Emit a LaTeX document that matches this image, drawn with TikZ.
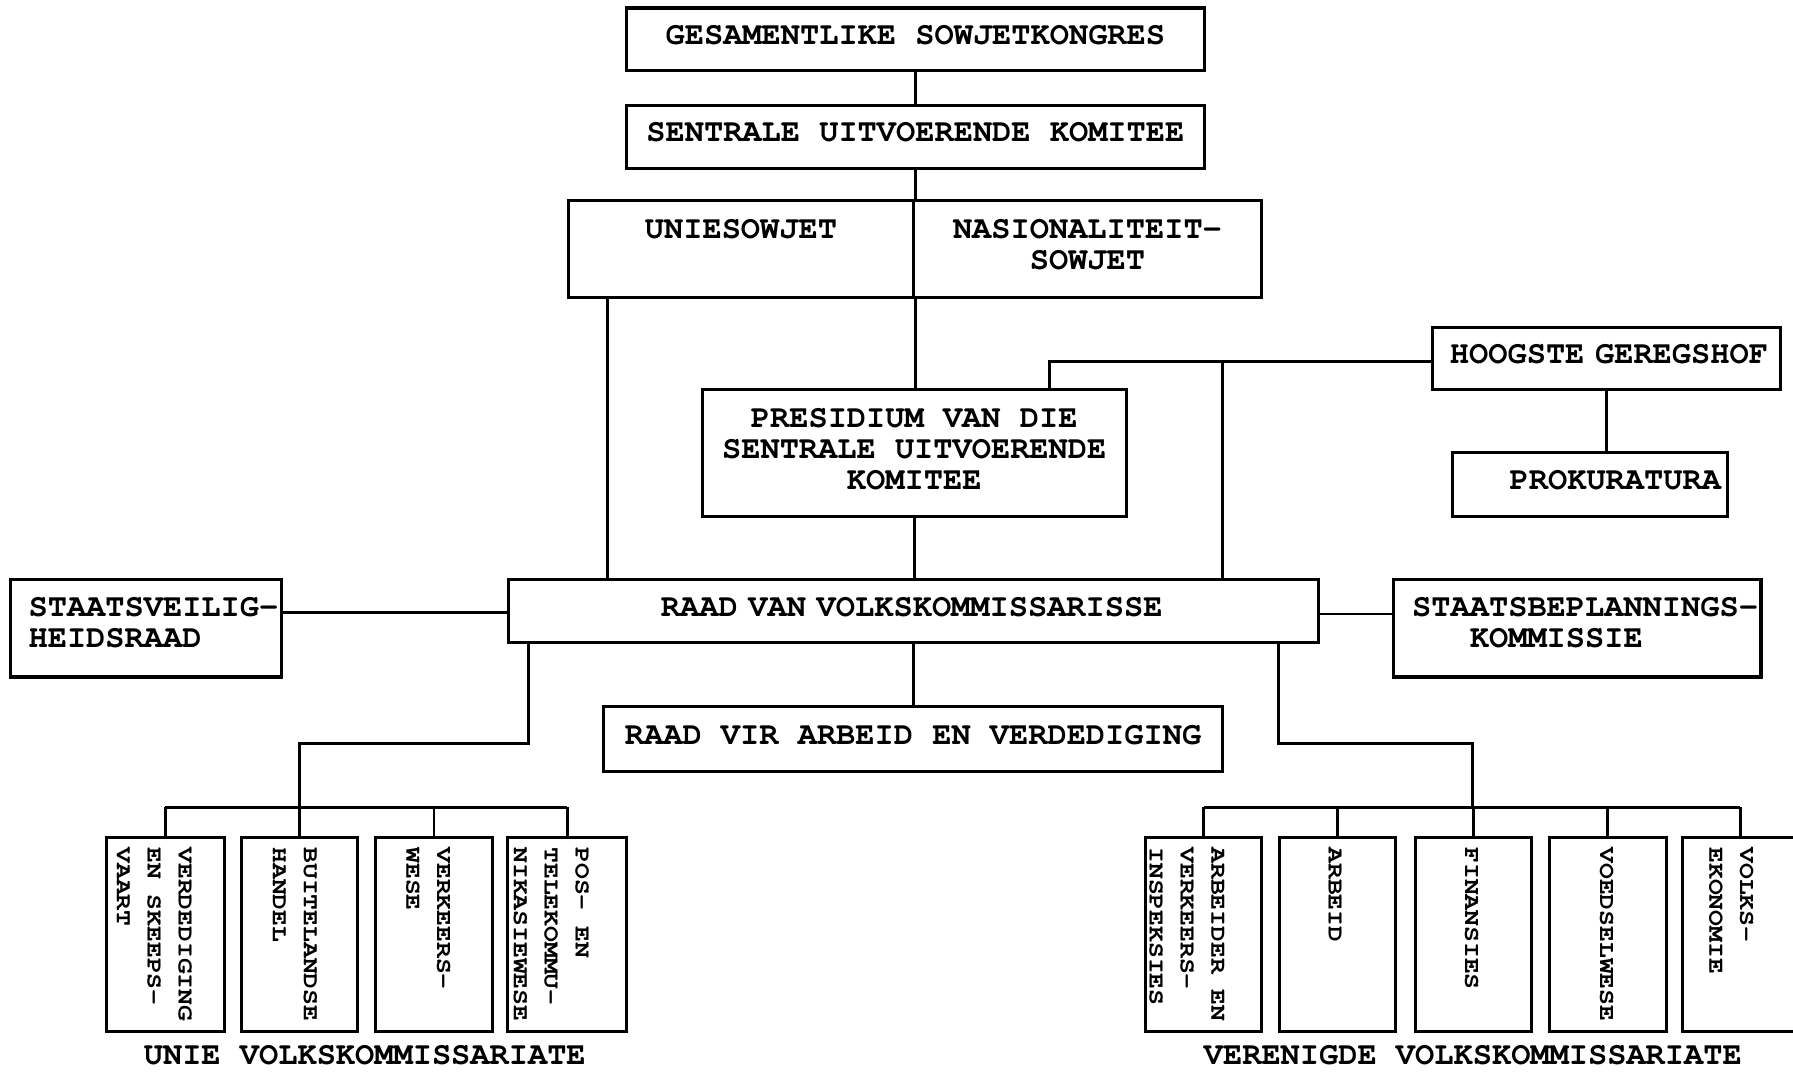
\documentclass[tikz,border=0pt]{standalone}
\usepackage{fontspec}
\newfontfamily\cur{texgyrecursor-bold.otf}
\newfontfamily\curv{texgyrecursor-bold.otf}[FakeStretch=1.18]
\begin{document}
\begin{tikzpicture}[x=1pt,y=-1pt,
  box/.style={draw, line width=2.7pt, inner sep=0pt, text depth=8pt, align=center,
    font=\cur\fontsize{28}{27}\selectfont},
  vbox/.style={draw, line width=2.7pt, minimum width=103pt, minimum height=170pt, inner sep=0pt},
  vtext/.style={rotate=-90, anchor=west, inner sep=0pt, align=left,
    font=\curv\fontsize{19.5}{27}\selectfont},
  link/.style={line width=2.5pt},
  lbl/.style={inner sep=0pt, font=\cur\fontsize{28}{27}\selectfont}]
\useasboundingbox (0,0) rectangle (1568,937);
\clip (0,0) rectangle (1568,937);

% top chain
\node[box, minimum width=505pt, minimum height=55pt] (ges) at (800.5,34.5) {GESAMENTLIKE SOWJETKONGRES};
\node[box, minimum width=505pt, minimum height=55pt] (sen) at (800.5,119.5) {SENTRALE UITVOERENDE KOMITEE};
\node[box, minimum width=302pt, minimum height=85pt] (uni) at (648,217.5) {UNIESOWJET\\\phantom{S}};
\node[box, minimum width=304pt, minimum height=85pt] (nas) at (951,217.5) {NASIONALITEIT-\\SOWJET};
\node[box, minimum width=371pt, minimum height=111pt] (pres) at (799.5,396.5) {PRESIDIUM VAN DIE\\SENTRALE UITVOERENDE\\KOMITEE};
\node[box, minimum width=304pt, minimum height=55pt, align=left, text width=274pt, inner xsep=15pt] (hof) at (1405,313.5) {\mbox{HOOGSTE GEREGSHOF}};
\node[box, minimum width=241pt, minimum height=56pt, align=right, text width=229pt, inner xsep=6pt] (prok) at (1390.5,424) {\mbox{PROKURATURA}};
\node[box, minimum width=708pt, minimum height=55pt, align=left, text width=442pt, inner xsep=133pt] (raad) at (799,534.5) {\mbox{RAAD VAN VOLKSKOMMISSARISSE}};
\node[box, minimum width=235pt, minimum height=85pt, align=left, text width=205pt, inner xsep=16pt, text depth=37pt] (sv) at (127.5,549.5) {\mbox{STAATSVEILIG-}\\\mbox{HEIDSRAAD}};
\node[box, minimum width=321pt, minimum height=85pt, align=left, text width=289pt, inner xsep=16pt, text depth=37pt] (sb) at (1379.5,549.5) {\mbox{STAATSBEPLANNINGS-}\\\mbox{\hspace*{1.8em}KOMMISSIE}};
\node[box, minimum width=541pt, minimum height=57pt] (rva) at (798.5,646.5) {RAAD VIR ARBEID EN VERDEDIGING};

% vertical boxes
\node[vbox] (L1) at (144.5,817) {};
\node[vbox, minimum width=102pt] (L2) at (262,817) {};
\node[vbox] (L3) at (379.5,817) {};
\node[vbox, minimum width=104pt] (L4) at (496,817) {};
\node[vbox, minimum width=101pt] (R1) at (1052.5,817) {};
\node[vbox, minimum width=101pt] (R2) at (1169.5,817) {};
\node[vbox, minimum width=101pt] (R3) at (1288.5,817) {};
\node[vbox, minimum width=102pt] (R4) at (1406,817) {};
\node[vbox, minimum width=102pt] (R5) at (1522,817) {};

\node[vtext] (tL1) at (135,741) {VERDEDIGING\\EN SKEEPS-\\VAART};
\node[vtext] (tL2) at (258,741) {BUITELANDSE\\HANDEL};
\node[vtext] (tL3) at (374.5,741) {VERKEERS-\\WESE};
\node[vtext] (tL4) at (482,741) {POS- EN\\TELEKOMMU-\\NIKASIEWESE};
\node[vtext] (tR1) at (1038,741) {ARBEIDER EN\\VERKEERS-\\INSPEKSIES};
\node[vtext] (tR2) at (1167.5,741) {ARBEID};
\node[vtext] (tR3) at (1287,741) {FINANSIES};
\node[vtext] (tR4) at (1405,741) {VOEDSELWESE};
\node[vtext] (tR5) at (1514,741) {VOLKS-\\EKONOMIE};

\node[lbl] (unie) at (319,923) {UNIE VOLKSKOMMISSARIATE};
\node[lbl] (ver) at (1288,923) {VERENIGDE VOLKSKOMMISSARIATE};

% helper coordinates
\coordinate (ul) at (531,0);
\coordinate (pk) at (918,316);
\coordinate (hb) at (1069,0);
\coordinate (lbr) at (462,650);
\coordinate (lbus) at (262,706);
\coordinate (rbr) at (1118,650);
\coordinate (rbus) at (1288,706);

% connectors
\draw[link] (ges.south) -- (sen.north);
\draw[link] (sen.south) -- (sen.south |- uni.north);
\draw[link] (uni.south east) -- (uni.south east |- pres.north);
\draw[link] (ul |- uni.south) -- (ul |- raad.north);
\draw[link] (pres.south) -- (pres.south |- raad.north);
\draw[link] (hof.west |- pk) -| (pk |- pres.north);
\draw[link] (hb |- pk) -- (hb |- raad.north);
\draw[link] (hof.south) -- (hof.south |- prok.north);
\draw[link] (sv.east |- 0,536) -- (raad.west |- 0,536);
\draw[link] (raad.east |- 0,537) -- (sb.west |- 0,537);
\draw[link] (raad.south -| rva.north) -- (rva.north);

\draw[link] (raad.south -| lbr) |- (lbus |- lbr) -- (lbus);
\draw[link] (L1.north |- lbus) -- (L4.north |- lbus);
\foreach \n in {L1,L2,L3,L4} \draw[link] (\n.north |- lbus) -- (\n.north);

\draw[link] (raad.south -| rbr) |- (rbus |- rbr) -- (rbus);
\draw[link] (R1.north |- rbus) -- (R5.north |- rbus);
\foreach \n in {R1,R2,R3,R4,R5} \draw[link] (\n.north |- rbus) -- (\n.north);
\end{tikzpicture}
\end{document}
